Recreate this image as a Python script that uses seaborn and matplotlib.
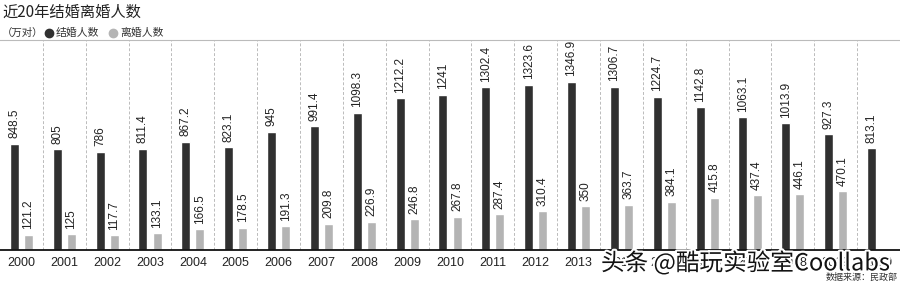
import numpy as np
import pandas as pd
import matplotlib
matplotlib.use("Agg")
import matplotlib.pyplot as plt
import matplotlib.patheffects as pe
import seaborn as sns

years = [str(y) for y in range(2000, 2021)]
marriage = [848.5, 805, 786, 811.4, 867.2, 823.1, 945, 991.4, 1098.3, 1212.2, 1241,
            1302.4, 1323.6, 1346.9, 1306.7, 1224.7, 1142.8, 1063.1, 1013.9, 927.3, 813.1]
divorce = [121.2, 125, 117.7, 133.1, 166.5, 178.5, 191.3, 209.8, 226.9, 246.8, 267.8,
           287.4, 310.4, 350, 363.7, 384.1, 415.8, 437.4, 446.1, 470.1, np.nan]
series_names = ["结婚人数", "离婚人数"]
colors = ["#303030", "#b4b4b4"]

title = "近20年结婚离婚人数"
unit = "（万对）"
source = "数据来源：民政部"
watermark = "头条 @酷玩实验室Coollabs"

df = pd.DataFrame({
    "year": years * 2,
    "type": [series_names[0]] * len(years) + [series_names[1]] * len(years),
    "value": marriage + divorce,
})

sns.set_theme(style="white")
plt.rcParams['font.family'] = ['Liberation Sans', 'Noto Sans CJK SC', 'DejaVu Sans']
CJK = ['Noto Sans CJK SC', 'DejaVu Sans']

fig = plt.figure(figsize=(9, 2.86), dpi=100)
ax = fig.add_axes([0, 36 / 286, 1, 210 / 286])

sns.barplot(data=df, x="year", y="value", hue="type", order=years,
            hue_order=series_names, palette=colors, saturation=1,
            width=0.66, gap=0.36, legend=False, ax=ax, errorbar=None)

ax.set_xlim(-0.5, len(years) - 0.5)
ax.set_ylim(0, 1680)
ax.set_xlabel("")
ax.set_ylabel("")
ax.set_yticks([])
ax.tick_params(axis="x", length=0, pad=5, labelsize=9, colors="#222222")
for s in ["left", "right"]:
    ax.spines[s].set_visible(False)
ax.spines["top"].set_color("#bbbbbb")
ax.spines["top"].set_linewidth(0.8)
ax.spines["bottom"].set_color("#111111")
ax.spines["bottom"].set_linewidth(1.3)

for i in range(len(years)):
    ax.axvline(i + 0.5, color="#bbbbbb", lw=0.7, ls=(0, (3, 2)), zorder=0)

for cont in ax.containers:
    for bar in cont:
        h = bar.get_height()
        if h is None or np.isnan(h) or h == 0:
            continue
        ax.annotate(f"{h:g}", (bar.get_x() + bar.get_width() / 2, h),
                    xytext=(0, 4), textcoords="offset points",
                    rotation=90, ha="center", va="bottom", fontsize=8.5,
                    color="#222222")

fig.text(2 / 900, 1 - 12 / 286, title, family=CJK, fontsize=11, color="#222222",
         ha="left", va="center", fontweight="medium")
fig.text(2 / 900, 1 - 33 / 286, unit, family=CJK, fontsize=7.5, color="#333333",
         ha="left", va="center")
fig.text(56 / 900, 1 - 33 / 286, series_names[0], family=CJK, fontsize=7.8,
         color="#333333", ha="left", va="center")
fig.text(120 / 900, 1 - 33 / 286, series_names[1], family=CJK, fontsize=7.8,
         color="#333333", ha="left", va="center")
fig.add_artist(plt.Line2D([49 / 900], [1 - 33 / 286], marker="o", ms=6,
                          color=colors[0], transform=fig.transFigure, ls=""))
fig.add_artist(plt.Line2D([113 / 900], [1 - 33 / 286], marker="o", ms=6,
                          color=colors[1], transform=fig.transFigure, ls=""))

fig.text(898 / 900, 1 - 277 / 286, source, family=CJK, fontsize=6.5,
         color="#333333", ha="right", va="center")
fig.text(601 / 900, 1 - 263 / 286, watermark, family=CJK, fontsize=17,
         color="#111111", ha="left", va="center",
         path_effects=[pe.withStroke(linewidth=3, foreground="white")])

fig.savefig("out.png", dpi=100, facecolor="white")
